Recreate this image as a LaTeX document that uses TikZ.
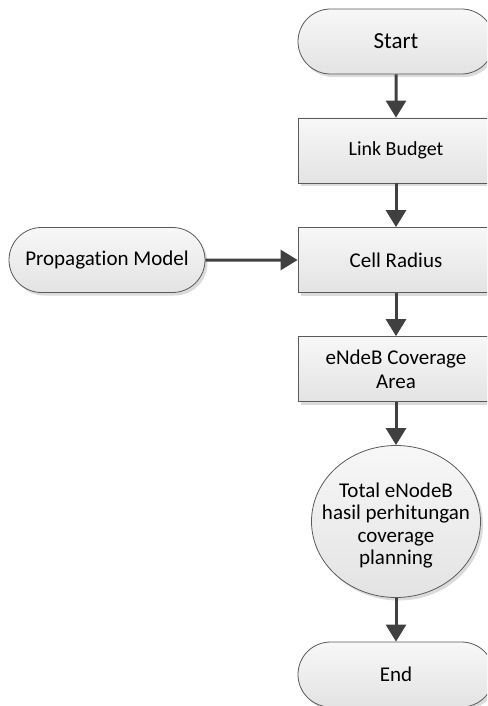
\documentclass[tikz,border=0pt]{standalone}
\usepackage{fontspec}
\setmainfont{Carlito}[Ligatures=NoCommon]
\usetikzlibrary{arrows.meta,shadows,shapes.geometric,shapes.misc}
\definecolor{arrowc}{HTML}{404040}
\definecolor{edgec}{HTML}{5A5A5A}
\tikzset{
  base/.style={draw=edgec, line width=0.8pt, top color=white!97!black, bottom color=white!89!black,
    drop shadow={shadow xshift=2.5pt, shadow yshift=-3pt, fill=black, opacity=0.14},
    align=center, inner sep=0pt, text=black, font=\fontsize{21}{24}\selectfont},
  term/.style={base, rounded rectangle, minimum width=196pt, minimum height=65pt},
  procbox/.style={base, rectangle, minimum width=196pt, minimum height=65pt},
  oval/.style={base, ellipse, minimum width=169pt, minimum height=152pt},
  ovaltext/.style={align=center, inner sep=0pt, text=black, font=\fontsize{21}{22.5}\selectfont},
  conn/.style={draw=arrowc, line width=3pt, -{Triangle[width=20pt,length=17pt,fill=arrowc]}},
}
\begin{document}
\begin{tikzpicture}[x=1pt,y=-1pt]
  \useasboundingbox (0,0) rectangle (487,706);
  \clip (0,0) rectangle (487,706);
  \node[term, font=\fontsize{23}{26}\selectfont] (start) at (396,41.5) {Start};
  \node[procbox, font=\fontsize{20}{24}\selectfont] (lb) at (396,150.5) {Link Budget};
  \node[term] (pm) at (107,260) {Propagation Model};
  \node[procbox] (cr) at (396,260) {Cell Radius};
  \node[procbox] (en) at (396,369) {eNdeB Coverage\\Area};
  \node[oval] (tot) at (396,521.5) {};
  \node[ovaltext, yshift=-4pt] (tottext) at (tot.center) {Total eNodeB\\hasil perhitungan\\coverage\\planning};
  \node[term] (endn) at (396,674.5) {End};
  \draw[conn] (start) -- (lb);
  \draw[conn] (lb) -- (cr);
  \draw[conn] (pm) -- (cr);
  \draw[conn] (cr) -- (en);
  \draw[conn] (en) -- (tot);
  \draw[conn] (tot) -- (endn);
\end{tikzpicture}
\end{document}
